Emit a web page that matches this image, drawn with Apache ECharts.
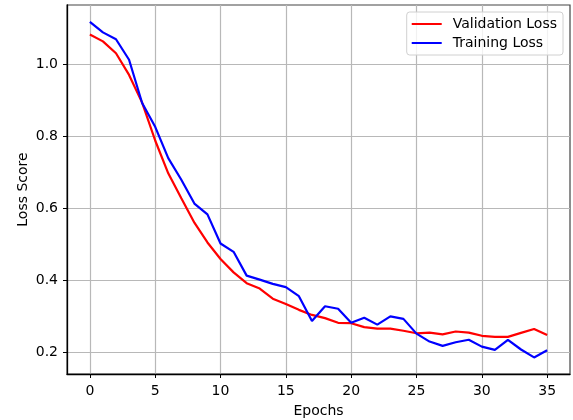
<!DOCTYPE html>
<html>
<head>
<meta charset="utf-8">
<script src="https://cdn.jsdelivr.net/npm/echarts@6/dist/echarts.min.js"></script>
<style>
html,body{margin:0;padding:0;background:#fff;}
#chart{width:573px;height:420px;}
</style>
</head>
<body>
<div id="chart"></div>
<script>
const epochs = [0,1,2,3,4,5,6,7,8,9,10,11,12,13,14,15,16,17,18,19,20,21,22,23,24,25,26,27,28,29,30,31,32,33,34,35];
const validationLoss = [1.082,1.063,1.030,0.970,0.893,0.788,0.697,0.628,0.560,0.505,0.459,0.422,0.392,0.377,0.349,0.334,0.318,0.304,0.295,0.282,0.281,0.270,0.266,0.266,0.260,0.253,0.255,0.250,0.258,0.255,0.246,0.243,0.243,0.254,0.265,0.248];
const trainingLoss = [1.117,1.088,1.069,1.012,0.892,0.826,0.739,0.679,0.613,0.583,0.502,0.479,0.413,0.402,0.390,0.381,0.356,0.287,0.328,0.321,0.282,0.296,0.277,0.300,0.293,0.252,0.230,0.218,0.228,0.235,0.216,0.207,0.235,0.208,0.186,0.206];
const xTicks = [0,5,10,15,20,25,30,35];
const yTicks = [0.2,0.4,0.6,0.8,1.0];

const font = 'DejaVu Sans';
const chart = echarts.init(document.getElementById('chart'), null, {renderer:'canvas'});
chart.setOption({
  animation:false,
  backgroundColor:'#ffffff',
  grid:{left:67,right:3,top:5,bottom:46,outerBoundsMode:'none',containLabel:false,show:true,borderColor:'#444',borderWidth:1.2,backgroundColor:'transparent'},
  legend:{
    orient:'vertical', right:10, top:12,
    data:['Validation Loss','Training Loss'],
    icon:'rect', itemWidth:30, itemHeight:2, itemGap:5,
    padding:[5,6,5,5],
    backgroundColor:'rgba(255,255,255,0.8)', borderColor:'#d0d0d0', borderWidth:1, borderRadius:3,
    textStyle:{fontFamily:font,fontSize:14,color:'#000',padding:[0,0,0,6]}
  },
  xAxis:{
    type:'value', min:-1.75, max:36.75,
    name:'Epochs', nameLocation:'middle', nameGap:30, nameMoveOverlap:false,
    nameTextStyle:{fontFamily:font,fontSize:14,color:'#000'},
    axisLine:{show:true,onZero:false,lineStyle:{color:'#000',width:1.3}},
    axisTick:{show:true,inside:false,length:4,customValues:xTicks,lineStyle:{color:'#000',width:1}},
    axisLabel:{customValues:xTicks,fontFamily:font,fontSize:14,color:'#000',margin:10},
    splitLine:{show:true,lineStyle:{color:'#b8b8b8',width:1.2}}
  },
  yAxis:{
    type:'value', min:0.14, max:1.164,
    name:'Loss Score', nameLocation:'middle', nameGap:37, nameMoveOverlap:false,
    nameTextStyle:{fontFamily:font,fontSize:14,color:'#000'},
    axisLine:{show:true,onZero:false,lineStyle:{color:'#000',width:1.3}},
    axisTick:{show:true,inside:false,length:4,customValues:yTicks,lineStyle:{color:'#000',width:1}},
    axisLabel:{customValues:yTicks,fontFamily:font,fontSize:14,color:'#000',margin:9,formatter:v=>v.toFixed(1)},
    splitLine:{show:true,lineStyle:{color:'#b8b8b8',width:1.2}}
  },
  series:[
    {name:'Validation Loss',type:'line',showSymbol:false,symbol:'none',
     data:epochs.map((e,i)=>[e,validationLoss[i]]),
     lineStyle:{color:'#ff0000',width:2.2},itemStyle:{color:'#ff0000'},z:2},
    {name:'Training Loss',type:'line',showSymbol:false,symbol:'none',
     data:epochs.map((e,i)=>[e,trainingLoss[i]]),
     lineStyle:{color:'#0000ff',width:2.2},itemStyle:{color:'#0000ff'},z:3}
  ]
});
</script>
</body>
</html>
